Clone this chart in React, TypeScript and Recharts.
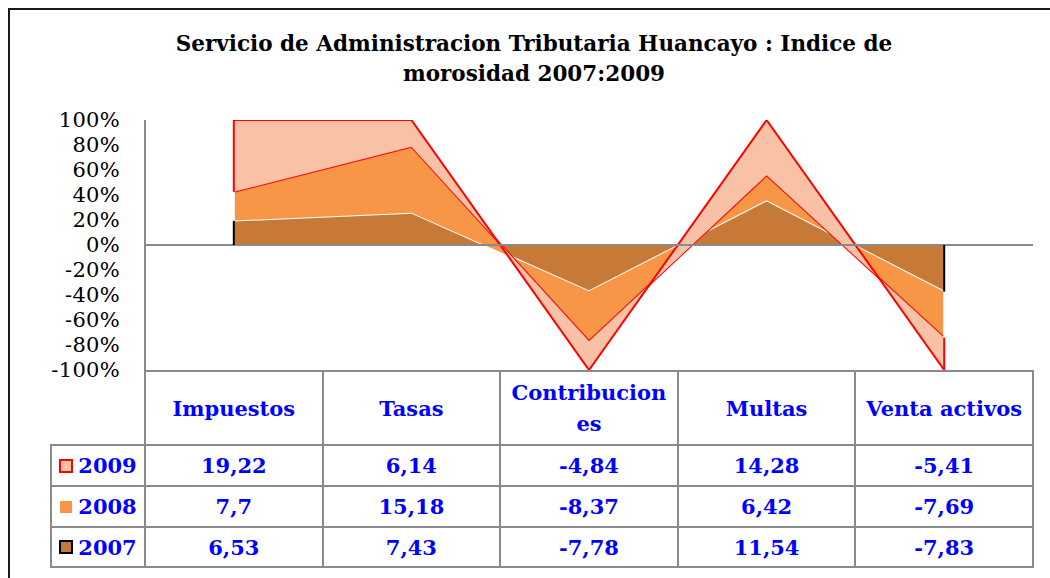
import React from 'react';
import { AreaChart, Area, XAxis, YAxis, ReferenceLine } from 'recharts';

const CATEGORIES = ['Impuestos', 'Tasas', 'Contribuciones', 'Multas', 'Venta activos'];
const S2009 = [19.22, 6.14, -4.84, 14.28, -5.41];
const S2008 = [7.7, 15.18, -8.37, 6.42, -7.69];
const S2007 = [6.53, 7.43, -7.78, 11.54, -7.83];
const Y_TICKS = [100, 80, 60, 40, 20, 0, -20, -40, -60, -80, -100];
const TITLE_1 = 'Servicio de Administracion Tributaria Huancayo : Indice de';
const TITLE_2 = 'morosidad 2007:2009';

const C2009 = '#F9C2A6';
const C2008 = '#F79646';
const C2007 = '#C77A38';
const RED = '#FF0000';
const GRID = '#8a8a8a';
const BLUE = '#0000FF';
const SERIF = '"DejaVu Serif", serif';

// 100% stacked shares (as Excel's 100% stacked area)
const data = CATEGORIES.map((name, i) => {
  const total = Math.abs(S2007[i]) + Math.abs(S2008[i]) + Math.abs(S2009[i]);
  return {
    name,
    p2007: (S2007[i] / total) * 100,
    p2008: (S2008[i] / total) * 100,
    p2009: (S2009[i] / total) * 100,
  };
});

const first = data[0];
const last = data[data.length - 1];

const TABLE_ROWS = [
  { label: '2009', values: S2009, key: 'k2009' },
  { label: '2008', values: S2008, key: 'k2008' },
  { label: '2007', values: S2007, key: 'k2007' },
];

const CHART_W = 1050;
const CHART_H = 400;
const MARGIN = { top: 120, right: 17, bottom: 30, left: 0 };
const Y_W = 145;
const PLOT_LEFT = MARGIN.left + Y_W;
const PLOT_RIGHT = CHART_W - MARGIN.right;
const COL_W = (PLOT_RIGHT - PLOT_LEFT) / CATEGORIES.length;
const PLOT_BOTTOM = CHART_H - MARGIN.bottom;
const LEG_LEFT = 51;
const HEADER_TOP = PLOT_BOTTOM + 1;
const ROW_LINES = [445, 486, 527, 567];

const fmt = (v: number) => String(v).replace('.', ',');

const YTick = (props: any) => {
  const { x, y, payload } = props;
  return (
    <text x={x} y={y} dy={7} textAnchor="end" fontFamily={SERIF} fontSize={21} letterSpacing={0.3} fill="#000">
      {payload.value}%
    </text>
  );
};

const Line = ({ left, top, width, height }: any) => (
  <div style={{ position: 'absolute', left, top, width, height, background: GRID }} />
);

const LegendKey = ({ k }: { k: string }) => {
  if (k === 'k2009')
    return <div style={{ width: 14, height: 14, boxSizing: 'border-box', background: C2009, border: `2px solid ${RED}` }} />;
  if (k === 'k2008')
    return <div style={{ width: 12, height: 12, margin: 1, background: C2008 }} />;
  return <div style={{ width: 14, height: 14, boxSizing: 'border-box', background: C2007, border: '2px solid #000' }} />;
};

const cellText: React.CSSProperties = {
  position: 'absolute',
  display: 'flex',
  alignItems: 'center',
  justifyContent: 'center',
  textAlign: 'center',
  fontFamily: SERIF,
  fontWeight: 'bold',
  fontSize: 21,
  lineHeight: '31px',
  color: BLUE,
  boxSizing: 'border-box',
};

const DataTable = () => {
  const colXs = CATEGORIES.map((_, i) => PLOT_LEFT + i * COL_W);
  const bottom = ROW_LINES[3];
  return (
    <>
      {CATEGORIES.map((c, i) => (
        <div
          key={c}
          style={{
            ...cellText,
            left: colXs[i],
            top: HEADER_TOP,
            width: COL_W,
            height: ROW_LINES[0] - HEADER_TOP,
            padding: '0 8px',
            overflowWrap: 'anywhere',
          }}
        >
          {c}
        </div>
      ))}
      {TABLE_ROWS.map((r, ri) => {
        const top = ROW_LINES[ri];
        const h = ROW_LINES[ri + 1] - top;
        return (
          <React.Fragment key={r.label}>
            <div style={{ ...cellText, left: LEG_LEFT, top, width: PLOT_LEFT - LEG_LEFT, height: h, gap: 5 }}>
              <LegendKey k={r.key} />
              <span>{r.label}</span>
            </div>
            {r.values.map((v, i) => (
              <div key={i} style={{ ...cellText, left: colXs[i], top, width: COL_W, height: h }}>
                {fmt(v)}
              </div>
            ))}
          </React.Fragment>
        );
      })}
      <Line left={PLOT_LEFT - 1} top={HEADER_TOP - 1} width={PLOT_RIGHT - PLOT_LEFT + 2} height={2} />
      {ROW_LINES.map((y) => (
        <Line key={y} left={LEG_LEFT - 1} top={y - 1} width={PLOT_RIGHT - LEG_LEFT + 2} height={2} />
      ))}
      {[...colXs, PLOT_RIGHT].map((x, i) => (
        <Line key={i} left={x - 1} top={HEADER_TOP - 1} width={2} height={bottom - HEADER_TOP + 2} />
      ))}
      <Line left={LEG_LEFT - 1} top={ROW_LINES[0] - 1} width={2} height={bottom - ROW_LINES[0] + 2} />
    </>
  );
};

export default function App() {
  return (
    <div style={{ position: 'fixed', left: 0, top: 0, width: 1050, height: 578, overflow: 'hidden', background: '#fff' }}>
      <div
        style={{
          position: 'absolute',
          left: 8,
          top: 8,
          width: 1100,
          height: 700,
          border: '2px solid #1a1a1a',
          boxSizing: 'border-box',
        }}
      />
      <div
        style={{
          position: 'absolute',
          left: 0,
          top: 29,
          width: 1068,
          textAlign: 'center',
          fontFamily: SERIF,
          fontWeight: 'bold',
          fontSize: 21.5,
          lineHeight: '30px',
          color: '#000',
        }}
      >
        <div>{TITLE_1}</div>
        <div>{TITLE_2}</div>
      </div>
      <div style={{ position: 'absolute', left: 0, top: 0 }}>
        <AreaChart width={CHART_W} height={CHART_H} data={data} margin={MARGIN} stackOffset="sign">
          <XAxis dataKey="name" type="category" hide padding={{ left: COL_W / 2, right: COL_W / 2 }} />
          <YAxis
            domain={[-100, 100]}
            ticks={Y_TICKS}
            width={Y_W}
            axisLine={{ stroke: GRID, strokeWidth: 2 }}
            tickLine={false}
            tickSize={0}
            tickMargin={25}
            tick={<YTick />}
            interval={0}
            allowDataOverflow
          />
          <Area type="linear" dataKey="p2007" stackId="1" fill={C2007} fillOpacity={1} stroke="#ffffff" strokeWidth={2} isAnimationActive={false} />
          <Area type="linear" dataKey="p2008" stackId="1" fill={C2008} fillOpacity={1} stroke={RED} strokeWidth={2} isAnimationActive={false} />
          <Area type="linear" dataKey="p2009" stackId="1" fill={C2009} fillOpacity={1} stroke={RED} strokeWidth={2} isAnimationActive={false} />
          <ReferenceLine y={0} stroke={GRID} strokeWidth={2} />
          <ReferenceLine segment={[{ x: first.name, y: 0 }, { x: first.name, y: first.p2007 }]} stroke="#000" strokeWidth={2} />
          <ReferenceLine segment={[{ x: first.name, y: first.p2007 }, { x: first.name, y: first.p2007 + first.p2008 }]} stroke="#ffffff" strokeWidth={2} />
          <ReferenceLine segment={[{ x: first.name, y: first.p2007 + first.p2008 }, { x: first.name, y: 100 }]} stroke={RED} strokeWidth={2} />
          <ReferenceLine segment={[{ x: last.name, y: 0 }, { x: last.name, y: last.p2007 }]} stroke="#000" strokeWidth={2} />
          <ReferenceLine segment={[{ x: last.name, y: last.p2007 }, { x: last.name, y: last.p2007 + last.p2008 }]} stroke="#ffffff" strokeWidth={2} />
          <ReferenceLine segment={[{ x: last.name, y: last.p2007 + last.p2008 }, { x: last.name, y: -100 }]} stroke={RED} strokeWidth={2} />
        </AreaChart>
      </div>
      <DataTable />
    </div>
  );
}
